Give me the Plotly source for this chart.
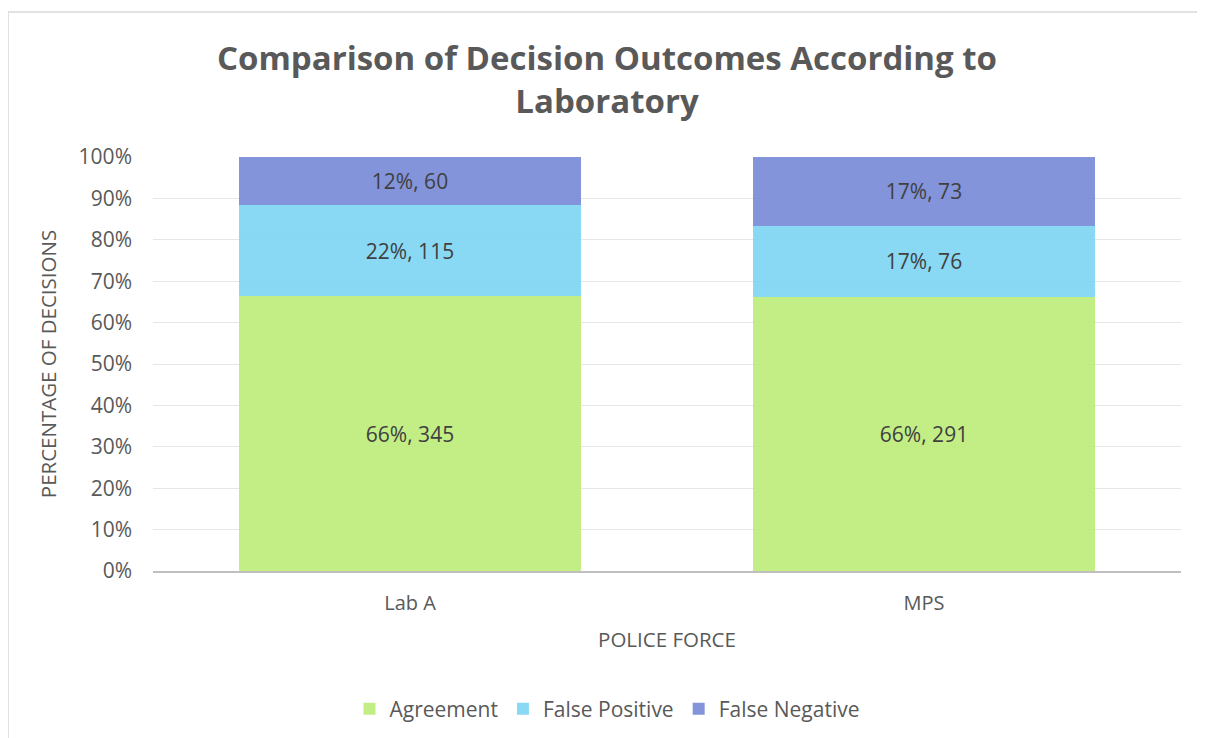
import plotly.graph_objects as go

# data
labs = ["Lab A", "MPS"]
agreement = [345, 291]
false_positive = [115, 76]
false_negative = [60, 73]

series = [
    ("Agreement", agreement, "rgba(190,237,124,0.92)"),
    ("False Positive", false_positive, "rgba(128,214,243,0.92)"),
    ("False Negative", false_negative, "rgba(117,136,214,0.90)"),
]

totals = [a + b + c for a, b, c in zip(agreement, false_positive, false_negative)]

# page has an 8px body margin, so the figure is placed 8px in
OFF = 8
W, H = 1205 - OFF, 738 - OFF
L, R, T, B = 153 - OFF, 24, 157 - OFF, 738 - 571
pw, ph = W - L - R, H - T - B

fig = go.Figure()
for name, vals, col in series:
    share = [v / t for v, t in zip(vals, totals)]
    txt = [f"{round(s * 100)}%, {v}" for s, v in zip(share, vals)]
    fig.add_bar(x=labs, y=share, name=name, marker_color=col, marker_line_width=0,
                text=txt, textposition="inside", insidetextanchor="middle",
                textfont=dict(size=21, color="#404040"), hoverinfo="skip")

fig.update_layout(
    barmode="stack", bargap=0.333,
    width=W, height=H,
    margin=dict(l=L, r=R, t=T, b=B, autoexpand=False),
    paper_bgcolor="white", plot_bgcolor="white",
    font=dict(family="Open Sans", color="#595959"),
    title=dict(text="<b>Comparison of Decision Outcomes According to<br>Laboratory</b>",
               x=(607 - OFF) / W, xref="container", xanchor="center",
               y=1 - (70 - OFF) / H, yanchor="middle",
               font=dict(size=33, color="#595959", family="Open Sans")),
    legend=dict(orientation="h", x=(607 - 153) / pw, xanchor="center", y=-(709 - 571) / ph, yanchor="middle",
                font=dict(size=21, color="#595959"), traceorder="normal", itemwidth=30),
)
fig.update_yaxes(range=[0, 1], tickformat=".0%", dtick=0.1, automargin=False,
                 gridcolor="#E6E6E6", gridwidth=1.3, zeroline=False,
                 tickfont=dict(size=21, color="#595959"), ticks="", ticklabelstandoff=20,
                 title=dict(text="PERCENTAGE OF DECISIONS", font=dict(size=20.5, color="#595959"), standoff=16))
fig.update_xaxes(showline=True, linecolor="#BFBFBF", linewidth=1.5, ticks="", automargin=False,
                 tickfont=dict(size=20, color="#595959"), ticklabelstandoff=13,
                 title=dict(text="POLICE FORCE", font=dict(size=20.5, color="#595959"), standoff=18))

# chart frame
fig.add_shape(type="rect", xref="paper", yref="paper",
              x0=(8 - 153) / pw, x1=(1230 - 153) / pw,
              y0=-(760 - 571) / ph, y1=(571 - 12) / ph,
              line=dict(color="#D9D9D9", width=1.5), fillcolor="rgba(0,0,0,0)", layer="below")

fig.write_html("out.html")
